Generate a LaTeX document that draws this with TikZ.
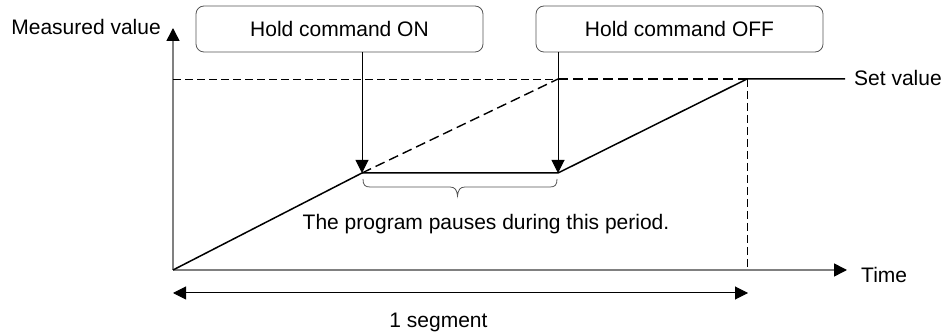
\documentclass[tikz,border=0pt]{standalone}
\usepackage{fontspec}
\setmainfont{Liberation Sans}
\usetikzlibrary{arrows.meta}
\definecolor{axisgray}{HTML}{808080}
\definecolor{boxgray}{HTML}{555555}
\begin{document}
\begin{tikzpicture}[x=1pt,y=-1pt,
  font=\fontsize{21}{25}\selectfont,
  label/.style={inner sep=0pt},
  box/.style={draw=boxgray,line width=0.8pt,rounded corners=8pt,minimum width=287pt,minimum height=46pt,inner sep=0pt},
  tipped/.style={-{Triangle[width=13pt,length=13pt]}},
  axistip/.style={-{Triangle[width=13pt,length=13pt,color=black]}},
  both/.style={{Triangle[width=13pt,length=13pt]}-{Triangle[width=13pt,length=13pt]}},
  axis/.style={draw=axisgray,line width=1.5pt},
  ramp/.style={line width=1.5pt},
  thindash/.style={line width=0.9pt,dash pattern=on 8pt off 4pt},
  thickdash/.style={line width=1.8pt,dash pattern=on 10pt off 5pt}
]
\useasboundingbox (0,0) rectangle (947,336);
% key points
\coordinate (O) at (173,270);
\coordinate (Ytop) at (173,28);
\coordinate (Xend) at (847,270);
\coordinate (P1) at (362,173);
\coordinate (P2) at (558,173);
\coordinate (S1) at (558,79);
\coordinate (S2) at (747,79);
\coordinate (Y1) at (173,79);
\coordinate (SE) at (845,79);
\coordinate (T2) at (747,270);
\coordinate (A1) at (173,293);
\coordinate (A2) at (748,293);
% boxes
\node[box] (on) at (339.5,29) {Hold command ON};
\node[box] (off) at (679.5,29) {Hold command OFF};
% labels
\node[label,anchor=base east] (mv) at (161,35) {Measured value};
\node[label,anchor=base west] (sv) at (854,86) {Set value};
\node[label,anchor=base west] (tm) at (861,283) {Time};
\node[label,anchor=base] (pp) at (486,230) {The program pauses during this period.};
\node[label,anchor=base] (seg) at (438.5,327) {1 segment};
% axes
\draw[axis,axistip] (O) -- (Ytop);
\draw[axis,axistip] (O) -- (Xend);
% dashed guides
\draw[thindash] (Y1) -- (S1);
\draw[thindash] (S2) -- (T2);
\draw[thickdash] (S1) -- (S2);
\draw[line width=1.4pt,dash pattern=on 10pt off 5pt] (P1) -- (S1);
% curve
\draw[ramp] (O) -- (P1) -- (P2) -- (S2) -- (SE);
% hold arrows
\draw[line width=1pt,tipped] (on.south -| P1) -- (P1);
\draw[line width=1pt,tipped] (off.south -| P2) -- (P2);
% brace
\draw[boxgray,line width=0.8pt] (363,179) .. controls (363,185) and (365,187) .. (370,187)
  -- (450,187) .. controls (455,187) and (457,190) .. (457.5,196)
  .. controls (458,190) and (460,187) .. (465,187)
  -- (550,187) .. controls (555,187) and (557,185) .. (557,179);
% segment arrow
\draw[line width=1pt,both] (A1) -- (A2);
\end{tikzpicture}
\end{document}
